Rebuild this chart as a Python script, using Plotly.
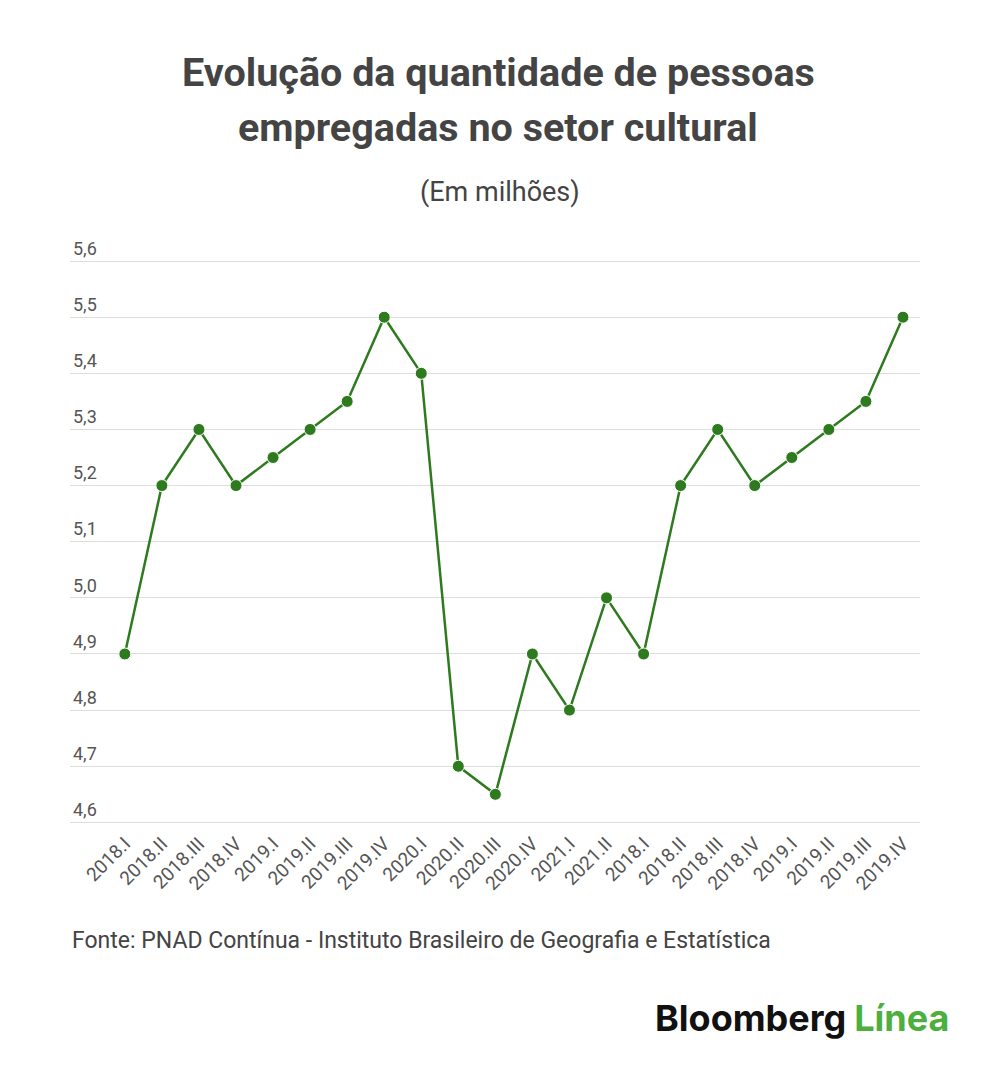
import plotly.graph_objects as go

quarters = ["2018.I", "2018.II", "2018.III", "2018.IV",
            "2019.I", "2019.II", "2019.III", "2019.IV",
            "2020.I", "2020.II", "2020.III", "2020.IV",
            "2021.I", "2021.II",
            "2018.I", "2018.II", "2018.III", "2018.IV",
            "2019.I", "2019.II", "2019.III", "2019.IV"]
employed = [4.9, 5.2, 5.3, 5.2, 5.25, 5.3, 5.35, 5.5,
            5.4, 4.7, 4.65, 4.9, 4.8, 5.0,
            4.9, 5.2, 5.3, 5.2, 5.25, 5.3, 5.35, 5.5]
y_ticks = [4.6, 4.7, 4.8, 4.9, 5.0, 5.1, 5.2, 5.3, 5.4, 5.5, 5.6]
y_labels = [f"{v:.1f}".replace(".", ",") for v in y_ticks]

pos = list(range(len(quarters)))
green = "#2e7a1f"
grey = "#555555"
dark = "#444444"

fig = go.Figure()
fig.add_trace(go.Scatter(
    x=pos, y=employed, mode="lines+markers",
    line=dict(color=green, width=2.5),
    marker=dict(color=green, size=12, line=dict(color="white", width=1)),
    hoverinfo="y",
))

fig.update_layout(
    width=1000, height=1066,
    paper_bgcolor="white", plot_bgcolor="white",
    margin=dict(l=62, r=88, t=225, b=246),
    showlegend=False,
    font=dict(family="Roboto", color=grey),
    xaxis=dict(
        range=[-1.48, 21.46],
        tickmode="array", tickvals=pos, ticktext=quarters,
        tickangle=-45, tickfont=dict(size=19, color=grey),
        showgrid=False, zeroline=False, ticks="",
    ),
    yaxis=dict(
        range=[4.59, 5.65],
        tickmode="array", tickvals=y_ticks, ticktext=y_labels,
        ticklabelposition="inside top",
        tickfont=dict(size=18, color=grey),
        showgrid=True, gridcolor="#dddddd", gridwidth=1,
        zeroline=False, ticks="",
    ),
)

title_lines = ["Evolução da quantidade de pessoas", "empregadas no setor cultural"]
for line, shift in zip(title_lines, [161, 106]):
    fig.add_annotation(
        text=f"<b>{line}</b>",
        xref="paper", yref="paper", x=0.5, y=1.0, yanchor="middle",
        xshift=3, yshift=shift, showarrow=False,
        font=dict(family="Roboto", size=39.5, color=dark),
    )
fig.add_annotation(
    text="(Em milhões)",
    xref="paper", yref="paper", x=0.5, y=1.0, yanchor="middle",
    xshift=5, yshift=41, showarrow=False,
    font=dict(family="Roboto", size=27, color=dark),
)
fig.add_annotation(
    text="Fonte: PNAD Contínua - Instituto Brasileiro de Geografia e Estatística",
    xref="paper", yref="paper", x=0, y=0, xanchor="left", yanchor="middle",
    yshift=-112, showarrow=False,
    font=dict(family="Roboto", size=23, color=dark),
)
fig.add_annotation(
    text="<b>Bloomberg</b> <b><span style='color:#4caf3e'>Línea</span></b>",
    xref="paper", yref="paper", x=1.0, y=0, xanchor="right", yanchor="middle",
    xshift=31, yshift=-190, showarrow=False,
    font=dict(family="Inter", size=36, color="#111111", weight=800),
)

fig.write_html("out.html")
